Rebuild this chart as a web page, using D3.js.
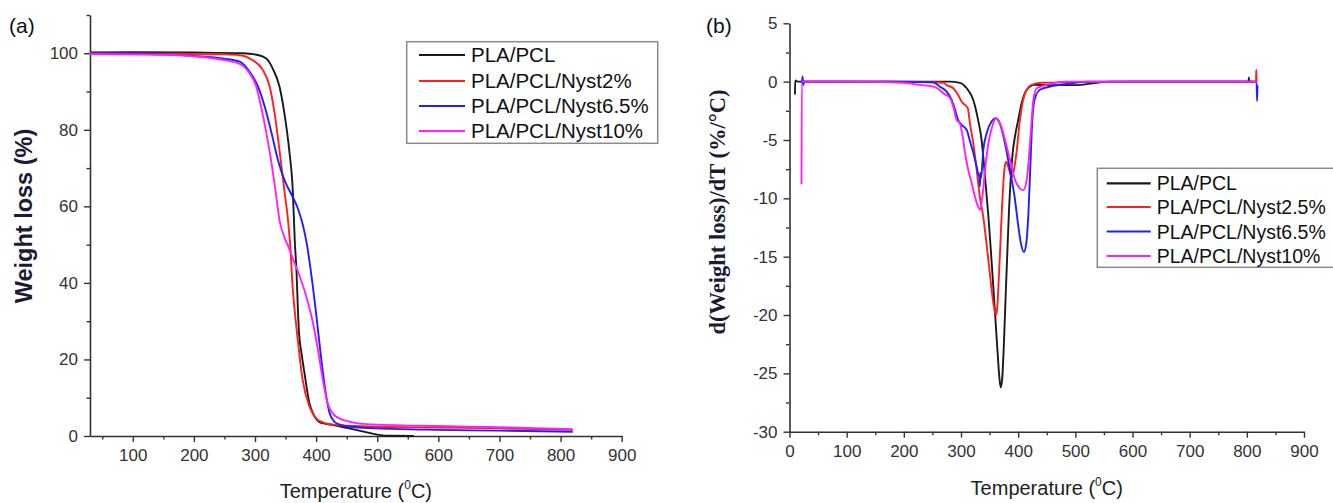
<!DOCTYPE html>
<html><head><meta charset="utf-8">
<script src="https://cdn.jsdelivr.net/npm/d3@7/dist/d3.min.js"></script>
<style>
body{margin:0;background:#fff;}
svg{display:block;}
</style></head>
<body>
<svg id="chart" width="1333" height="503"></svg>
<script>
// ---------- Panel (a): TGA weight loss ----------
const tgaSeriesNames = ["PLA/PCL","PLA/PCL/Nyst2%","PLA/PCL/Nyst6.5%","PLA/PCL/Nyst10%"];
const pclT  = [30,100,200,280,300,313,320,329,340,348,356,362,365,368,370,372,376,381,389,396,405,415,427,445,465,485,503,520,560];
const pclW  = [100.2,100.3,100.2,100.0,99.7,99.1,98.4,96,91.3,84.4,74.7,63.5,51.2,42.6,33.8,27,21.7,16.4,8.6,5.5,3.7,3.2,2.9,2.3,1.6,0.9,0.3,0.05,0];
const n2T   = [30,150,250,275,297,313,324,332,340,348,354,357,362,366,370,378,389,396,403,412,422,440,465,500,600,700,820];
const n2W   = [100,99.9,99.7,99.5,98.1,95.6,91.3,84.4,74.7,64.2,56.4,51,38,31,25,14.6,7.7,5.5,4.2,3.5,3.1,2.8,2.6,2.4,2.2,2.0,1.6];
const n65T  = [30,150,200,250,275,291,305,316,327,337.5,348,359,370,378,385,392,400,408,415,422,430,440,455,500,600,700,820];
const n65W  = [100,99.7,99.3,98.6,97.8,95.2,91.3,86,79.2,72.1,66.9,63.3,59.5,55.3,50,42.3,32,20.7,12,6,3.7,2.9,2.4,2.0,1.6,1.4,1.1];
const n10T  = [30,150,200,250,275,291,302,310,318.5,327,334,340,348,355,362,373,384,395,403,411,419,427,444,482,600,700,820];
const n10W  = [99.8,99.6,99.2,98.2,97.2,94.8,91.3,86,79.2,71.3,63.5,56.4,52,49.3,46.3,41.8,36.4,29.4,22.5,14.6,8.5,5.9,4.2,3.1,2.6,2.3,1.8];
const tgaXTicks = [100,200,300,400,500,600,700,800,900];
const tgaYTicks = [0,20,40,60,80,100];

// ---------- Panel (b): DTG ----------
const dtgSeriesNames = ["PLA/PCL","PLA/PCL/Nyst2.5%","PLA/PCL/Nyst6.5%","PLA/PCL/Nyst10%"];
const dPclT = [9.6,9.8,14,100,200,280,298,310,321.5,330,336,340,344,348,352,356,360,364,367,369.5,372,375,378,381,384,387,390.4,394.4,400,406,415,429,450,500,530,560,700,803,803.5,804,810];
const dPclV = [-1.1,0.1,0,0,0,0,-0.1,-0.57,-1.57,-3.3,-5.0,-7.0,-9.3,-11.6,-14.3,-17.2,-20.2,-23.2,-25.3,-26.2,-25.5,-22.5,-18.5,-14.7,-11.0,-8.3,-6.1,-4.7,-3.3,-1.85,-0.7,-0.28,-0.3,-0.3,-0.15,0,0,0,0.35,0,0];
const dN2T  = [20,22,100,200,250,269,275,286.5,295,301,307,312,315.7,321.5,327.5,333,339,344,349,354,358,361.2,363.5,366,369,372,375.8,378.7,382.8,388.6,397,403,412,423.6,440,500,600,700,816,816.5,817,818];
const dN2V  = [0,0,0,0,-0.05,-0.1,-0.3,-0.57,-1.14,-1.7,-2.0,-2.3,-3.6,-5.3,-7.6,-9.9,-11.6,-13.6,-15.8,-18.0,-19.4,-20.0,-19.3,-17.0,-13.8,-10.5,-7.6,-6.86,-7.3,-8.2,-6.1,-3.3,-1.0,-0.28,-0.1,-0.05,0,0,0,1.0,0.2,0];
const dN65T = [20,22,23,24,26,30,100,200,251.5,263,275,283.7,289.5,295,301,310,315.7,321.5,327.5,330,332,333,334,335,339,345,353.7,361,368,377,385.7,394.4,400,405,410,414,418,421,424,427,431,438,455.6,485,520,700,817,818,818.6];
const dN65V = [-0.1,0,0.45,-0.3,0,0,0,-0.02,-0.06,-0.43,-0.86,-1.57,-2.4,-3.3,-3.7,-4.14,-5.1,-6.1,-7.3,-7.9,-8.1,-9.0,-7.8,-8.3,-5.85,-4.4,-3.4,-3.14,-3.6,-5.3,-7.6,-10.1,-12.3,-13.9,-14.6,-13.9,-11.2,-7.6,-4.0,-2.0,-1.2,-0.7,-0.43,-0.2,0,0,0,-1.65,-0.3];
const dN10T = [21,21.5,23,100,200,228,251.5,263,269,280.7,286.5,292.5,298,303,307,312.8,318.7,324.5,330,333,338,342,347.8,353.7,361,369.4,377,385.7,394.4,403,409,415,419.5,423.6,426.6,432.4,450,480,700,818];
const dN10V = [-8.8,0,0,0,-0.1,-0.28,-0.43,-0.71,-1.0,-1.4,-2.14,-3.3,-3.57,-4.7,-6.1,-7.6,-8.7,-9.9,-10.7,-11.0,-9.6,-7.6,-5.3,-4.0,-3.14,-3.7,-5.0,-6.7,-8.4,-9.14,-9.3,-8.4,-6.1,-3.3,-1.57,-0.57,-0.28,0,0,0];
const dtgXTicks = [0,100,200,300,400,500,600,700,800,900];
const dtgYTicks = [5,0,-5,-10,-15,-20,-25,-30];

const seriesColors = ["#1a1a1a","#ff1f1f","#1f1fff","#ff1fff"];

const svg = d3.select("#chart");
const FONT = "'Liberation Sans', Arial, sans-serif";

function zip(t, v){ return t.map((d,i)=>[d, v[i]]); }

function drawPanel(opt){
  const g = svg.append("g");
  const x = d3.scaleLinear().domain(opt.xDomain).range(opt.xRange);
  const y = d3.scaleLinear().domain(opt.yDomain).range(opt.yRange);

  // minor ticks
  g.append("g").attr("transform",`translate(0,${opt.yRange[0]})`)
    .call(d3.axisBottom(x).tickValues(opt.xMinor).tickSize(3.5).tickFormat(""))
    .call(s=>s.select(".domain").remove())
    .selectAll("line").attr("stroke","#333").attr("stroke-width",1.4);
  g.append("g").attr("transform",`translate(${opt.xRange[0]},0)`)
    .call(d3.axisLeft(y).tickValues(opt.yMinor).tickSize(3.5).tickFormat(""))
    .call(s=>s.select(".domain").remove())
    .selectAll("line").attr("stroke","#333").attr("stroke-width",1.4);

  // major axes
  const xa = g.append("g").attr("transform",`translate(0,${opt.yRange[0]})`)
    .call(d3.axisBottom(x).tickValues(opt.xTicks).tickSize(6).tickSizeOuter(0).tickPadding(7).tickFormat(d3.format("d")));
  const ya = g.append("g").attr("transform",`translate(${opt.xRange[0]},0)`)
    .call(d3.axisLeft(y).tickValues(opt.yTicks).tickSize(6).tickSizeOuter(0).tickPadding(6).tickFormat(d=>String(d)));
  [xa,ya].forEach(a=>{
    a.select(".domain").attr("stroke","#333").attr("stroke-width",1.6);
    a.selectAll(".tick line").attr("stroke","#333").attr("stroke-width",1.4);
    a.selectAll(".tick text").attr("font-family",FONT).attr("font-size",17).attr("fill","#333");
  });

  // lines
  const line = d3.line().x(d=>x(d[0])).y(d=>y(d[1])).curve(d3.curveMonotoneX);
  opt.series.forEach((s,i)=>{
    g.append("path").datum(zip(s[0],s[1]))
      .attr("fill","none").attr("stroke",seriesColors[i])
      .attr("stroke-width",1.9).attr("stroke-linejoin","round")
      .attr("d",line);
  });

  // legend
  const L = opt.legend;
  g.append("rect").attr("x",L.x).attr("y",L.y).attr("width",L.w).attr("height",L.h)
    .attr("fill","#fff").attr("stroke","#8a8a8a").attr("stroke-width",1.5);
  opt.names.forEach((n,i)=>{
    const yy = L.rows[i];
    g.append("line").attr("x1",L.lx1).attr("x2",L.lx2).attr("y1",yy).attr("y2",yy)
      .attr("stroke",seriesColors[i]).attr("stroke-width",2.2);
    g.append("text").attr("x",L.tx).attr("y",yy+7).attr("font-family",FONT)
      .attr("font-size",L.fs).attr("fill","#111").text(n);
  });

  // x title
  const xt = g.append("text").attr("x",(opt.xRange[0]+opt.xRange[1])/2).attr("y",opt.xTitleY)
    .attr("text-anchor","middle").attr("font-family",FONT).attr("font-size",20).attr("fill","#222");
  xt.append("tspan").text("Temperature (");
  xt.append("tspan").attr("font-size",12).attr("dy",-9).text("0");
  xt.append("tspan").attr("dy",9).text("C)");

  // y title
  g.append("text").attr("transform",`translate(${opt.yTitleX},${opt.yTitleY}) rotate(-90)`)
    .attr("text-anchor","middle").attr("font-family",opt.yTitleFont).attr("font-weight","bold")
    .attr("font-size",opt.yTitleSize).attr("fill","#1d1a36").text(opt.yTitle);

  // panel tag
  g.append("text").attr("x",opt.tag[0]).attr("y",opt.tag[1]).attr("font-family",FONT)
    .attr("font-size",21).attr("fill","#111").text(opt.tagText);
}

const range = (a,b,s)=>d3.range(a,b+1e-9,s);

drawPanel({
  xDomain:[30,900], xRange:[90,621.7], yDomain:[0,110], yRange:[436,15],
  xTicks:tgaXTicks, yTicks:tgaYTicks,
  xMinor:range(50,850,100), yMinor:[10,30,50,70,90,110],
  series:[[pclT,pclW],[n2T,n2W],[n65T,n65W],[n10T,n10W]],
  names:tgaSeriesNames,
  legend:{x:406.7,y:41.7,w:251,h:101.6,lx1:419,lx2:465,tx:471,rows:[55,81,106,131],fs:20.5},
  xTitleY:498, yTitleX:32, yTitleY:216, yTitle:"Weight loss (%)", yTitleFont:FONT, yTitleSize:23.5,
  tag:[9,33], tagText:"(a)"
});

drawPanel({
  xDomain:[0,900], xRange:[789.5,1304], yDomain:[-30,5], yRange:[431.7,23.3],
  xTicks:dtgXTicks, yTicks:dtgYTicks,
  xMinor:range(50,850,100), yMinor:range(-27.5,2.5,5),
  series:[[dPclT,dPclV],[dN2T,dN2V],[dN65T,dN65V],[dN10T,dN10V]],
  names:dtgSeriesNames,
  legend:{x:1097.3,y:168.3,w:240,h:99,lx1:1106.7,lx2:1150.7,tx:1156.7,rows:[183.3,207,231.5,256],fs:19.5},
  xTitleY:495, yTitleX:725, yTitleY:212, yTitle:"d(Weight loss)/dT (%/°C)", yTitleFont:"'Liberation Serif', 'Times New Roman', serif", yTitleSize:22.5,
  tag:[706,33], tagText:"(b)"
});
</script>
</body></html>
